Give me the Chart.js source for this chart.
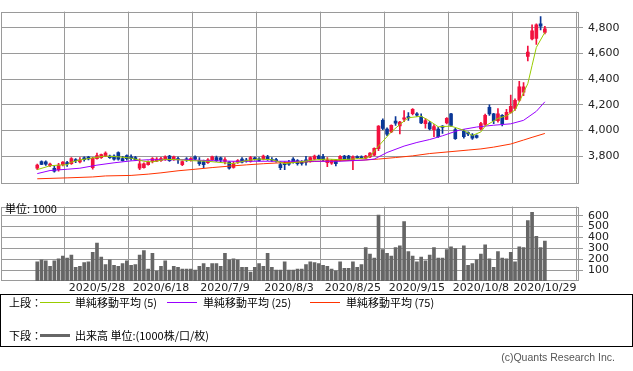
<!DOCTYPE html>
<html>
<head>
<meta charset="utf-8">
<script src="https://cdn.jsdelivr.net/npm/chart.js@4"></script>
<style>
  body { margin: 0; background: #fff; width: 633px; height: 371px; overflow: hidden; position: relative; }
  canvas { position: absolute; left: 0; }
  #price { top: 0; }
  #volume { top: 195px; }
  .t { position: absolute; font: 11px "Noto Sans CJK JP", sans-serif; color: #000; line-height: 13px; white-space: nowrap; }
  .ln { position: absolute; width: 30px; }
  #box { position: absolute; left: 0; top: 294px; width: 631px; height: 51px; border: 1px solid #000; }
  #copy { position: absolute; right: 18px; top: 351px; font: 10.5px "Liberation Sans", sans-serif; color: #555; }
</style>
</head>
<body>
<canvas id="price" width="633" height="195"></canvas>
<canvas id="volume" width="633" height="100"></canvas>
<div class="t" style="left:5px;top:202px">単位: 1000</div>

<div id="box"></div>
<div class="t" style="left:9px;top:296px">上段：</div>
<div class="ln" style="left:40px;top:302px;height:1px;background:#99cc00"></div>
<div class="t" style="left:75px;top:296px">単純移動平均 (5)</div>
<div class="ln" style="left:167px;top:302px;height:1px;background:#9900ff"></div>
<div class="t" style="left:203px;top:296px">単純移動平均 (25)</div>
<div class="ln" style="left:310px;top:302px;height:1px;background:#ff3300"></div>
<div class="t" style="left:346px;top:296px">単純移動平均 (75)</div>
<div class="t" style="left:9px;top:329px">下段：</div>
<div class="ln" style="left:40px;top:334px;height:3px;background:#666"></div>
<div class="t" style="left:75px;top:329px">出来高 単位:(1000株/口/枚)</div>
<div id="copy">(c)Quants Research Inc.</div>

<script>
// 営業日 (2020/5/8 - 2020/10/29)
const dayNums = [
  [5,  [8,11,12,13,14,15,18,19,20,21,22,25,26,27,28,29]],
  [6,  [1,2,3,4,5,8,9,10,11,12,15,16,17,18,19,22,23,24,25,26,29,30]],
  [7,  [1,2,3,6,7,8,9,10,13,14,15,16,17,20,21,22,27,28,29,30,31]],
  [8,  [3,4,5,6,7,11,12,13,14,17,18,19,20,21,24,25,26,27,28,31]],
  [9,  [1,2,3,4,7,8,9,10,11,14,15,16,17,18,23,24,25,28,29,30]],
  [10, [1,2,5,6,7,8,9,12,13,14,15,16,19,20,21,22,23,26,27,28,29]]
];
const days = dayNums.flatMap(([m, ds]) => ds.map(d => `2020/${m}/${d}`));
const tickDates = ['2020/5/28','2020/6/18','2020/7/9','2020/8/3','2020/8/25','2020/9/15','2020/10/8','2020/10/29'];
const priceTicks = [3800, 4000, 4200, 4400, 4600, 4800];
const volTicks = [100, 200, 300, 400, 500, 600];

// 四本値 (10/1 は売買停止)
const open = [
  3708,3760,3758,3728,3708,3697,3736,3752,3743,3776,
  3756,3788,3795,3712,3783,3790,3802,3803,3802,3830,
  3783,3807,3797,3790,3708,3713,3736,3760,3762,3767,
  3774,3802,3774,3783,3736,3780,3767,3797,3767,3760,
  3751,3774,3790,3788,3760,3755,3715,3755,3779,3772,
  3760,3788,3780,3779,3797,3778,3776,3736,3746,3752,
  3779,3767,3760,3773,3760,3779,3802,3798,3751,3748,
  3767,3772,3802,3802,3767,3797,3796,3786,3795,3810,
  3860,4080,4013,3990,4075,4036,4090,4110,4131,4131,
  4107,4055,4060,4008,4013,4036,4060,4130,4008,null,
  3994,3985,3966,3961,4013,4048,4182,4130,4078,4118,
  4088,4142,4172,4236,4299,4576,4712,4717,4829,4764
];
const high = [
  3740,3765,3765,3748,3722,3745,3760,3762,3790,3783,
  3790,3797,3800,3792,3826,3818,3835,3810,3812,3835,
  3800,3812,3812,3800,3780,3750,3765,3790,3790,3792,
  3805,3808,3802,3795,3765,3790,3790,3805,3790,3772,
  3782,3802,3802,3795,3790,3760,3760,3775,3790,3785,
  3800,3795,3790,3810,3808,3790,3785,3760,3758,3770,
  3790,3775,3768,3800,3796,3810,3810,3815,3790,3775,
  3778,3806,3808,3808,3805,3805,3805,3808,3830,3866,
  4040,4091,4022,4045,4110,4072,4155,4140,4172,4140,
  4130,4095,4072,4048,4025,4040,4102,4135,4018,null,
  4008,3990,3978,3968,4065,4128,4200,4135,4172,4125,
  4165,4276,4248,4383,4374,4658,4822,4829,4886,4811
];
const low = [
  3697,3735,3730,3720,3678,3685,3725,3722,3737,3752,
  3750,3762,3772,3700,3778,3785,3798,3785,3770,3770,
  3762,3770,3770,3768,3697,3708,3732,3750,3758,3760,
  3768,3760,3768,3745,3728,3760,3762,3775,3730,3713,
  3745,3770,3760,3755,3742,3700,3708,3745,3750,3755,
  3755,3770,3762,3772,3768,3760,3755,3697,3697,3730,
  3748,3732,3732,3732,3755,3772,3778,3765,3720,3738,
  3725,3765,3775,3768,3697,3785,3785,3780,3790,3805,
  3845,4007,3960,3985,4040,3975,4070,4080,4122,4110,
  4055,4020,4005,3954,3948,3978,4052,4032,3931,null,
  3942,3960,3931,3942,4005,4040,4118,4055,4065,4036,
  4085,4135,4158,4228,4271,4541,4705,4670,4782,4752
];
const close = [
  3732,3738,3740,3740,3686,3732,3755,3742,3783,3766,
  3774,3775,3780,3785,3807,3814,3826,3790,3779,3779,
  3767,3783,3783,3774,3743,3743,3755,3783,3779,3783,
  3797,3767,3797,3774,3760,3772,3783,3779,3743,3736,
  3774,3797,3767,3772,3775,3708,3743,3767,3755,3764,
  3790,3779,3769,3802,3779,3770,3766,3713,3736,3740,
  3755,3743,3745,3755,3790,3802,3783,3774,3774,3767,
  3744,3800,3779,3774,3797,3790,3789,3802,3826,3862,
  4036,4017,3972,4041,4058,4066,4100,4098,4166,4120,
  4060,4079,4013,4032,3954,4025,4095,4041,3938,null,
  3954,3975,3942,3948,4055,4119,4130,4078,4130,4055,
  4142,4189,4236,4341,4341,4611,4775,4822,4811,4792
];
// 出来高 (1000株)
const volume = [
  177,194,186,134,186,203,229,211,237,126,
  134,169,177,263,349,220,151,194,143,134,
  160,186,143,151,237,280,109,254,91,134,
  186,100,134,126,109,109,109,100,134,160,
  126,160,160,134,254,194,203,194,126,126,
  83,126,160,134,254,126,100,100,177,100,
  100,109,109,151,177,169,160,143,134,109,
  94,177,117,117,177,126,151,306,246,211,
  606,289,254,229,306,323,546,271,229,177,
  220,186,237,306,211,211,289,314,297,null,
  323,143,160,194,246,331,203,126,271,211,
  203,263,177,314,306,554,631,409,306,366
];
// 移動平均 [営業日番号, 値]
const ma5 = [[0,3697],[3,3727],[5,3732],[7,3735],[8,3755],[10,3772],[12,3783],[15,3798],[16,3802],[19,3797],
  [22,3786],[25,3762],[27,3757],[30,3777],[33,3774],[36,3767],[40,3762],[42,3755],[46,3744],[49,3767],
  [52,3779],[55,3774],[58,3744],[61,3755],[65,3772],[68,3779],[71,3774],[74,3779],[77,3786],[78,3800],
  [80,3880],[83,3990],[85,4048],[87,4100],[90,4112],[92,4075],[94,4030],[97,4035],[100,4003],[102,3962],
  [104,3990],[105,4035],[108,4096],[110,4115],[112,4160],[113,4224],[115,4365],[116,4506],[117,4647],[119,4764]];
const ma25 = [[0,3666],[3,3690],[7,3700],[10,3708],[14,3732],[18,3750],[22,3765],[26,3774],[30,3774],[35,3774],
  [40,3767],[46,3762],[54,3762],[64,3762],[71,3762],[77,3772],[79,3779],[82,3830],[86,3880],[89,3908],
  [92,3931],[95,3960],[99,4005],[103,4028],[107,4042],[111,4053],[114,4080],[117,4150],[119,4224]];
const ma75 = [[0,3626],[7,3633],[13,3640],[16,3648],[22,3652],[26,3662],[29,3672],[33,3688],[37,3700],[41,3713],
  [45,3724],[49,3734],[53,3743],[57,3750],[61,3755],[65,3760],[69,3766],[75,3768],[80,3779],[84,3791],
  [88,3804],[92,3822],[97,3837],[101,3849],[104,3858],[107,3872],[111,3896],[114,3927],[116,3948],[119,3978]];

const UP = '#f2113f', DOWN = '#0a3797', GRID = '#9a9a9a';
const tickIdx = tickDates.map(d => days.indexOf(d));
const candleColor = ctx => {
  const i = ctx.raw ? ctx.raw.x : 0;
  return close[i] >= open[i] ? UP : DOWN;
};
const traded = days.map((_, i) => i).filter(i => open[i] != null);

// 枠線
const frame = {
  id: 'frame',
  beforeDatasetsDraw(c) {
    const { ctx, chartArea: a } = c;
    ctx.save();
    ctx.strokeStyle = GRID;
    ctx.lineWidth = 1;
    ctx.strokeRect(Math.round(a.left) + 0.5, Math.round(a.top) + 0.5,
      Math.round(a.right - a.left) - 1, Math.round(a.bottom - a.top) - 1);
    ctx.restore();
  }
};

function xScale(showLabels) {
  return {
    type: 'linear', min: -8.5, max: 127, offset: false,
    afterBuildTicks: s => { s.ticks = tickIdx.map(v => ({ value: v })); },
    ticks: {
      display: showLabels, autoSkip: false, maxRotation: 0, padding: 1,
      color: '#222', font: { family: 'DejaVu Sans', size: 11 },
      callback: v => days[v]
    },
    grid: { color: GRID, drawTicks: false },
    border: { display: false },
    afterFit: s => { s.height = showLabels ? 14 : 0; }
  };
}
function yScale(min, max, ticks, fmt) {
  return {
    position: 'right', min: min, max: max,
    afterBuildTicks: s => { s.ticks = ticks.map(v => ({ value: v })); },
    ticks: { autoSkip: false, color: '#222', font: { family: 'DejaVu Sans', size: 11 }, padding: 5, callback: fmt },
    grid: { color: GRID, tickLength: 4 },
    border: { display: false },
    afterFit: s => { s.width = 54; }
  };
}
const line = (pts, color) => ({
  type: 'line', data: pts.map(([d, v]) => ({ x: d, y: v })),
  borderColor: color, borderWidth: 1, pointRadius: 0, tension: 0, order: 0
});

new Chart(document.getElementById('price'), {
  type: 'bar',
  data: {
    datasets: [
      line(ma5, '#99cc00'),
      line(ma25, '#9900ff'),
      line(ma75, '#ff3300'),
      {
        data: traded.map(i => ({ x: i, y: [low[i], high[i]] })),
        backgroundColor: candleColor, barThickness: 1, grouped: false, order: 2
      },
      {
        data: traded.map(i => ({ x: i, y: [open[i], close[i]] })),
        backgroundColor: candleColor, barThickness: 3, minBarLength: 1, grouped: false, order: 1
      }
    ]
  },
  options: {
    responsive: false, animation: false, devicePixelRatio: 1,
    layout: { padding: { left: 1, top: 1, right: 0, bottom: 5 } },
    plugins: { legend: { display: false }, tooltip: { enabled: false } },
    scales: {
      x: xScale(false),
      y: yScale(3590, 4925, priceTicks, v => v.toLocaleString('en-US'))
    }
  },
  plugins: [frame]
});

new Chart(document.getElementById('volume'), {
  type: 'bar',
  data: {
    datasets: [{
      data: traded.map(i => ({ x: i, y: volume[i] })),
      backgroundColor: '#666666', barThickness: 3
    }]
  },
  options: {
    responsive: false, animation: false, devicePixelRatio: 1,
    layout: { padding: { left: 1, top: 6, right: 0, bottom: 0 } },
    plugins: { legend: { display: false }, tooltip: { enabled: false } },
    scales: {
      x: xScale(true),
      y: yScale(0, 683, volTicks, v => String(v))
    }
  },
  plugins: [frame]
});
</script>
</body>
</html>
